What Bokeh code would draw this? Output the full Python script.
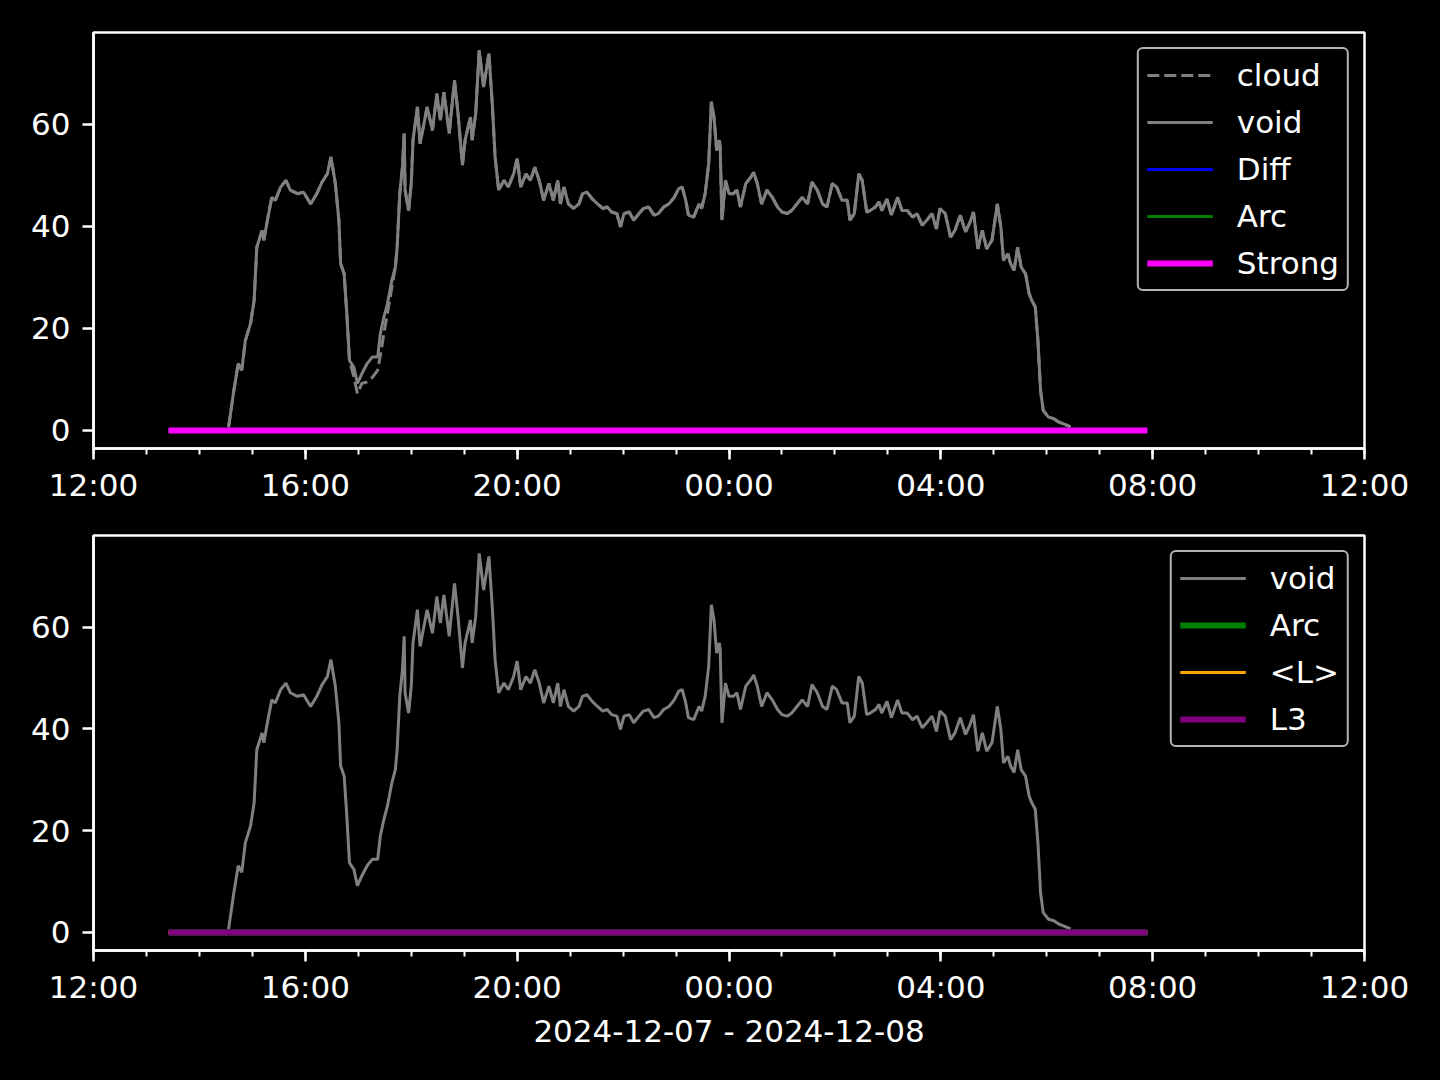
import pandas as pd
from bokeh.plotting import figure
from bokeh.models import Range1d, FixedTicker, Legend, LegendItem, DatetimeTickFormatter
from bokeh.layouts import column
from bokeh.embed import file_html
from bokeh.resources import INLINE

# ---------------- data ----------------
void_clock = [
    "14:33", "14:39", "14:44", "14:48", "14:52", "14:58",
    "15:02", "15:05", "15:11", "15:13", "15:17", "15:22", "15:26", "15:32", "15:38", "15:43", "15:51", "15:58",
    "16:06", "16:13", "16:19", "16:25", "16:29", "16:34", "16:38", "16:40", "16:44", "16:47", "16:50", "16:55", "16:59",
    "17:04", "17:10", "17:16", "17:22", "17:25", "17:29", "17:33", "17:38", "17:42", "17:44", "17:47", "17:50", "17:52", "17:53", "17:57",
    "18:00", "18:02", "18:07", "18:10", "18:18", "18:24", "18:29", "18:33", "18:37", "18:43", "18:46", "18:49", "18:53", "18:58",
    "19:01", "19:07", "19:09", "19:13", "19:17", "19:22", "19:28", "19:32", "19:35", "19:39", "19:45", "19:50", "19:56",
    "20:00", "20:04", "20:10", "20:15", "20:20", "20:25", "20:30", "20:36", "20:41", "20:46", "20:49", "20:53", "20:58",
    "21:04", "21:10", "21:14", "21:19", "21:25", "21:31", "21:37", "21:42", "21:47", "21:53", "21:57",
    "22:01", "22:07", "22:12", "22:18", "22:23", "22:29", "22:35", "22:40", "22:46", "22:52", "22:58",
    "23:03", "23:07", "23:11", "23:14", "23:20", "23:26", "23:29", "23:33", "23:37", "23:40", "23:43", "23:46", "23:49", "23:50", "23:52", "23:56",
    "00:00", "00:05", "00:09", "00:13", "00:19", "00:25", "00:28", "00:32", "00:37", "00:43", "00:49", "00:55",
    "01:00", "01:06", "01:11", "01:17", "01:23", "01:29", "01:34", "01:40", "01:46", "01:51", "01:57",
    "02:02", "02:08", "02:14", "02:17", "02:22", "02:27", "02:31", "02:36", "02:40", "02:46", "02:50", "02:53", "02:59",
    "03:04", "03:11", "03:16", "03:22", "03:28", "03:33", "03:39", "03:44", "03:50", "03:55", "03:59",
    "04:05", "04:11", "04:16", "04:22", "04:28", "04:33", "04:37", "04:42", "04:47", "04:52", "04:58",
    "05:04", "05:08", "05:11", "05:16", "05:19", "05:23", "05:27", "05:31", "05:36", "05:40", "05:43", "05:47", "05:50", "05:53", "05:56",
    "06:02", "06:08", "06:14", "06:19", "06:27",
]
void_values = [
    0.6, 7.8, 13.1, 11.8, 17.6, 21.0,
    25.5, 35.9, 39.2, 37.3, 41.2, 45.7, 45.1, 47.7, 49.0, 47.1, 46.4, 46.7,
    44.4, 46.4, 48.7, 50.3, 53.6, 48.4, 41.2, 32.7, 30.7, 22.9, 13.7, 12.4, 9.2,
    11.1, 13.1, 14.4, 14.4, 19.0, 22.2, 24.8, 29.4, 32.0, 35.9, 46.4, 51.6, 58.2, 47.1, 43.1,
    48.4, 56.9, 63.4, 56.2, 63.4, 58.8, 66.0, 60.8, 66.3, 58.2, 63.4, 68.6, 62.1, 52.0,
    56.9, 61.4, 56.9, 62.1, 74.5, 67.3, 73.9, 63.4, 53.6, 47.1, 49.0, 47.7, 50.3,
    53.3, 47.7, 50.3, 49.0, 51.6, 49.0, 45.1, 48.4, 45.1, 49.0, 44.4, 47.7, 44.4,
    43.5, 44.4, 46.4, 46.7, 45.4, 44.4, 43.5, 43.8, 42.8, 42.5, 39.9,
    42.5, 42.8, 41.2, 42.5, 43.5, 43.8, 42.2, 42.5, 43.8, 44.4, 45.7,
    47.4, 47.7, 45.1, 42.2, 41.8, 44.4, 43.5, 46.4, 52.3, 64.4, 61.4, 54.9, 56.9, 55.6, 41.2, 49.0,
    46.4, 46.4, 47.1, 43.8, 48.4, 49.7, 50.6, 48.4, 44.4, 47.1, 45.7, 43.8,
    42.8, 42.5, 43.1, 44.4, 45.7, 44.4, 48.7, 47.1, 44.4, 43.8, 48.4,
    47.7, 45.1, 45.1, 41.2, 42.5, 50.3, 49.0, 42.8, 43.1, 43.8, 44.8, 43.1, 45.4,
    42.2, 45.7, 43.1, 43.1, 41.8, 42.5, 40.2, 41.2, 42.5, 39.5, 43.5,
    42.5, 37.9, 39.2, 42.2, 38.9, 40.8, 42.8, 35.6, 39.2, 35.6, 37.3,
    44.4, 39.9, 33.3, 34.6, 32.7, 31.4, 35.9, 32.0, 30.7, 26.8, 25.5, 24.2, 17.6, 7.8, 3.9,
    2.6, 2.3, 1.6, 1.3, 0.7,
]
# stretch where the "cloud" series departs from "void"
cloud_clock = ["16:55", "16:59", "17:04", "17:10", "17:16", "17:22", "17:26", "17:29", "17:33", "17:38", "17:42"]
cloud_values = [10.5, 7.2, 9.2, 9.5, 10.4, 11.8, 15.7, 19.0, 22.9, 28.0, 32.0]

# flat series (all zero)
flat_clock = ["13:25", "07:54"]
diff_values = [0.0, 0.0]
arc_values = [0.0, 0.0]
strong_values = [0.0, 0.0]
lavg_values = [0.0, 0.0]
l3_values = [0.0, 0.0]

x_start = "2024-12-07 12:00"
x_end = "2024-12-08 12:00"
major_ticks = ["2024-12-07 12:00", "2024-12-07 16:00", "2024-12-07 20:00", "2024-12-08 00:00",
               "2024-12-08 04:00", "2024-12-08 08:00", "2024-12-08 12:00"]
y_ticks = [0, 20, 40, 60]
y_lo, y_hi = -3.55, 78.0
x_label = "2024-12-07 - 2024-12-08"


def to_dt(c):
    h, m = map(int, c.split(":"))
    return pd.Timestamp(2024, 12, 7 if h >= 12 else 8, h, m)


def ms(ts):
    return pd.Timestamp(ts).value / 1e6


void_t = [to_dt(c) for c in void_clock]
cw_t = [to_dt(c) for c in cloud_clock]
cloud_pts = [(t, v) for t, v in zip(void_t, void_values) if t < cw_t[0] or t > cw_t[-1]]
cloud_pts += list(zip(cw_t, cloud_values))
cloud_pts.sort()
cloud_t = [a for a, _ in cloud_pts]
cloud_v = [b for _, b in cloud_pts]
flat_t = [to_dt(c) for c in flat_clock]

FONT = "DejaVu Sans"
FS = "31px"
minor = [ms(pd.Timestamp(x_start) + pd.Timedelta(hours=h)) for h in range(25)]


def make_fig(frame_h, top, bottom, label=None):
    p = figure(x_axis_type="datetime", frame_width=1271, frame_height=frame_h,
               x_range=Range1d(pd.Timestamp(x_start), pd.Timestamp(x_end)),
               y_range=Range1d(y_lo, y_hi),
               output_backend="svg", toolbar_location=None,
               min_border_left=93, min_border_right=76, min_border_top=top, min_border_bottom=bottom,
               background_fill_color="black", border_fill_color="black",
               outline_line_color="white", outline_line_width=2.5)
    p.grid.visible = False
    for ax in (p.xaxis[0], p.yaxis[0]):
        ax.axis_line_color = "white"
        ax.axis_line_width = 2.5
        ax.major_tick_line_color = "white"
        ax.major_tick_line_width = 2.5
        ax.minor_tick_line_color = "white"
        ax.minor_tick_line_width = 2
        ax.major_tick_out = 11
        ax.major_tick_in = 0
        ax.minor_tick_out = 6
        ax.minor_tick_in = 0
        ax.major_label_text_color = "white"
        ax.major_label_text_font = FONT
        ax.major_label_text_font_size = FS
    p.xaxis.ticker = FixedTicker(ticks=[ms(t) for t in major_ticks], minor_ticks=minor)
    p.xaxis.formatter = DatetimeTickFormatter(
        hours="%H:%M", hourmin="%H:%M", days="%H:%M", minutes="%H:%M", minsec="%H:%M",
        months="%H:%M", years="%H:%M", context=None, strip_leading_zeros=False)
    p.xaxis.major_label_standoff = 7
    p.yaxis.ticker = FixedTicker(ticks=y_ticks, minor_ticks=[])
    p.yaxis.major_label_standoff = 12
    if label:
        p.xaxis.axis_label = label
        p.xaxis.axis_label_text_color = "white"
        p.xaxis.axis_label_text_font = FONT
        p.xaxis.axis_label_text_font_size = FS
        p.xaxis.axis_label_text_font_style = "normal"
        p.xaxis.axis_label_standoff = 5
    return p


def style_legend(lg):
    lg.location = "top_right"
    lg.margin = 15
    lg.padding = 8
    lg.spacing = 11
    lg.glyph_width = 66
    lg.glyph_height = 30
    lg.label_height = 30
    lg.label_standoff = 24
    lg.label_text_color = "white"
    lg.label_text_font = FONT
    lg.label_text_font_size = FS
    lg.background_fill_color = "black"
    lg.background_fill_alpha = 0.8
    lg.border_line_color = "#b3b3b3"
    lg.border_line_alpha = 1.0
    lg.border_line_width = 2.5
    if "border_radius" in Legend.properties():
        lg.border_radius = 6


# ---------------- top panel ----------------
p1 = make_fig(416, 32, 72)
r_cloud = p1.line(cloud_t, cloud_v, line_color="gray", line_width=3, line_dash="12 5")
r_void1 = p1.line(void_t, void_values, line_color="gray", line_width=3)
r_diff = p1.line(flat_t, diff_values, line_color="blue", line_width=3)
r_arc1 = p1.line(flat_t, arc_values, line_color="green", line_width=3)
r_strong = p1.line(flat_t, strong_values, line_color="magenta", line_width=6)
lg1 = Legend(items=[LegendItem(label="cloud", renderers=[r_cloud]),
                    LegendItem(label="void", renderers=[r_void1]),
                    LegendItem(label="Diff", renderers=[r_diff]),
                    LegendItem(label="Arc", renderers=[r_arc1]),
                    LegendItem(label="Strong", renderers=[r_strong])])
style_legend(lg1)
p1.add_layout(lg1)

# ---------------- bottom panel ----------------
p2 = make_fig(415, 15, 130, label=x_label)
r_void2 = p2.line(void_t, void_values, line_color="gray", line_width=3)
r_arc2 = p2.line(flat_t, arc_values, line_color="green", line_width=6)
r_lavg = p2.line(flat_t, lavg_values, line_color="orange", line_width=3)
r_l3 = p2.line(flat_t, l3_values, line_color="purple", line_width=6)
lg2 = Legend(items=[LegendItem(label="void", renderers=[r_void2]),
                    LegendItem(label="Arc", renderers=[r_arc2]),
                    LegendItem(label="<L>", renderers=[r_lavg]),
                    LegendItem(label="L3", renderers=[r_l3])])
style_legend(lg2)
p2.add_layout(lg2)

layout = column(p1, p2, styles={"background-color": "black"})
open("out.html", "w").write(file_html(layout, INLINE))
